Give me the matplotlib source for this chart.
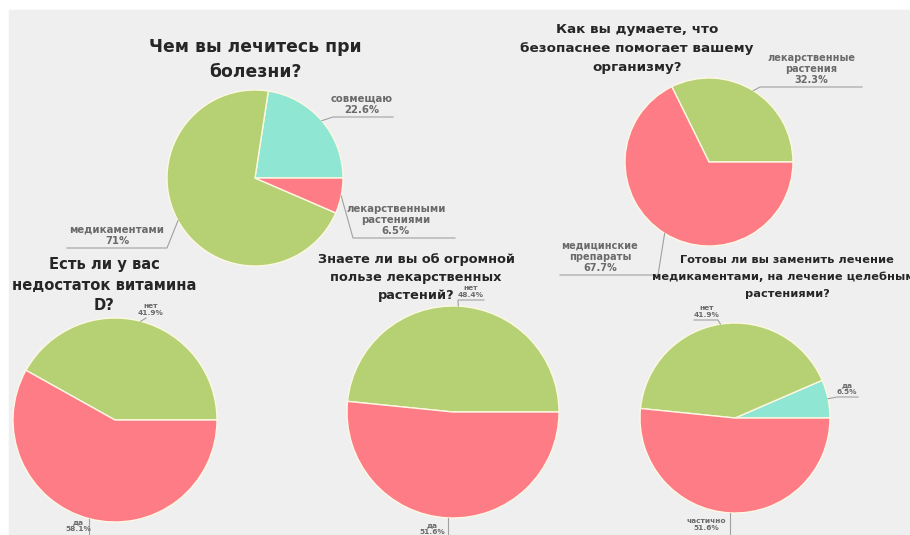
import numpy as np
import matplotlib.pyplot as plt

W, H = 910, 535

GREEN = "#b6d174"
CYAN = "#8fe6d3"
PINK = "#fd7c86"

# Чем вы лечитесь при болезни?
treat_labels = ["совмещаю", "медикаментами", "лекарственными\nрастениями"]
treat_values = [22.6, 71.0, 6.5]
treat_colors = [CYAN, GREEN, PINK]

# Как вы думаете, что безопаснее помогает вашему организму?
safe_labels = ["лекарственные\nрастения", "медицинские\nпрепараты"]
safe_values = [32.3, 67.7]
safe_colors = [GREEN, PINK]

# Есть ли у вас недостаток витамина D?
vitd_labels = ["нет", "да"]
vitd_values = [41.9, 58.1]
vitd_colors = [GREEN, PINK]

# Знаете ли вы об огромной пользе лекарственных растений?
know_labels = ["нет", "да"]
know_values = [48.4, 51.6]
know_colors = [GREEN, PINK]

# Готовы ли вы заменить лечение медикаментами, на лечение целебными растениями?
ready_labels = ["да", "нет", "частично"]
ready_values = [6.5, 41.9, 51.6]
ready_colors = [CYAN, GREEN, PINK]


def fmt(v):
    return f"{v:g}%"


fig = plt.figure(figsize=(W / 100, H / 100), dpi=100, facecolor="white")
ax = fig.add_axes([0, 0, 1, 1])
ax.set_facecolor("white")


# positions below are given in pixels from the top-left corner
def py(y):
    return H - y


ax.add_patch(plt.Rectangle((9, 0), W - 9, H - 10, color="#efefef", zorder=0))


def draw_pie(values, colors, cx, cy, r):
    wedges, _ = ax.pie(values, colors=colors, startangle=0, counterclock=True,
                       center=(cx, py(cy)), radius=r, normalize=True,
                       wedgeprops=dict(edgecolor="#fdf8e4", linewidth=1.0))
    for w in wedges:
        w.set_zorder(2)
    return wedges


def rim_point(wedge, cx, cy, r):
    ang = np.deg2rad((wedge.theta1 + wedge.theta2) / 2)
    return cx + r * np.cos(ang), cy - r * np.sin(ang)


def label(wedge, text, cx, cy, r, elbow, end_x, size, tx):
    sx, sy = rim_point(wedge, cx, cy, r)
    ex, ey = elbow
    ax.plot([sx, ex, end_x], [py(sy), py(ey), py(ey)], color="#a0a0a0",
            lw=0.8, zorder=3, clip_on=False)
    ax.text(tx, py(ey) + 2, text, ha="center", va="bottom", fontsize=size,
            color="#6a6a6a", fontweight="bold", linespacing=1.15, zorder=4)


def label_down(wedge, text, cx, cy, r, size, tx, ty):
    # leader runs straight down off the bottom edge, text sits beside it
    sx, sy = rim_point(wedge, cx, cy, r)
    ax.plot([sx, sx], [py(sy), py(H + 5)], color="#a0a0a0", lw=0.8, zorder=3)
    ax.text(tx, py(ty), text, ha="center", va="top", fontsize=size,
            color="#6a6a6a", fontweight="bold", linespacing=1.15, zorder=4)


def title(x, y0, lines, size, step):
    for i, line in enumerate(lines):
        ax.text(x, py(y0 + i * step), line, ha="center", va="center",
                fontsize=size, fontweight="bold", color="#262626", zorder=4)


# top left pie
c1 = (255, 178, 88)
w1 = draw_pie(treat_values, treat_colors, *c1)
title(255, 47, ["Чем вы лечитесь при", "болезни?"], 12.4, 25)
label(w1[0], f"{treat_labels[0]}\n{fmt(treat_values[0])}", *c1, (333, 117), 393, 7.3, 362)
label(w1[1], f"{treat_labels[1]}\n{fmt(treat_values[1])}", *c1, (167, 248), 67, 7.3, 117)
label(w1[2], f"{treat_labels[2]}\n{fmt(treat_values[2])}", *c1, (353, 238), 455, 7.3, 396)

# top right pie
c2 = (709, 162, 84)
w2 = draw_pie(safe_values, safe_colors, *c2)
title(637, 30, ["Как вы думаете, что", "безопаснее помогает вашему", "организму?"], 9.7, 18.5)
label(w2[0], f"{safe_labels[0]}\n{fmt(safe_values[0])}", *c2, (760, 87), 862, 7.0, 811)
label(w2[1], f"{safe_labels[1]}\n{fmt(safe_values[1])}", *c2, (658, 275), 560, 7.0, 600)

# bottom left pie
c3 = (115, 420, 102)
w3 = draw_pie(vitd_values, vitd_colors, *c3)
title(104, 265, ["Есть ли у вас", "недостаток витамина", "D?"], 10.6, 20.5)
label(w3[0], f"{vitd_labels[0]}\n{fmt(vitd_values[0])}", *c3, (146, 318), 146, 5.3, 151)
label_down(w3[1], f"{vitd_labels[1]}\n{fmt(vitd_values[1])}", *c3, 5.3, 78, 519)

# bottom middle pie
c4 = (453, 412, 106)
w4 = draw_pie(know_values, know_colors, *c4)
title(416, 260, ["Знаете ли вы об огромной", "пользе лекарственных", "растений?"], 9.3, 17.5)
label(w4[0], f"{know_labels[0]}\n{fmt(know_values[0])}", *c4, (458, 300), 484, 5.3, 471)
label_down(w4[1], f"{know_labels[1]}\n{fmt(know_values[1])}", *c4, 5.3, 432, 522)

# bottom right pie
c5 = (735, 418, 95)
w5 = draw_pie(ready_values, ready_colors, *c5)
title(787, 260, ["Готовы ли вы заменить лечение",
                 "медикаментами, на лечение целебными", "растениями?"], 8.2, 17)
label(w5[0], f"{ready_labels[0]}\n{fmt(ready_values[0])}", *c5, (837, 397), 858, 5.3, 847)
label(w5[1], f"{ready_labels[1]}\n{fmt(ready_values[1])}", *c5, (718, 320), 694, 5.3, 707)
label_down(w5[2], f"{ready_labels[2]}\n{fmt(ready_values[2])}", *c5, 5.3, 706, 518)

ax.set_xlim(0, W)
ax.set_ylim(0, H)
ax.set_aspect("equal")
ax.axis("off")

fig.savefig("out.png", dpi=100, facecolor="white")
